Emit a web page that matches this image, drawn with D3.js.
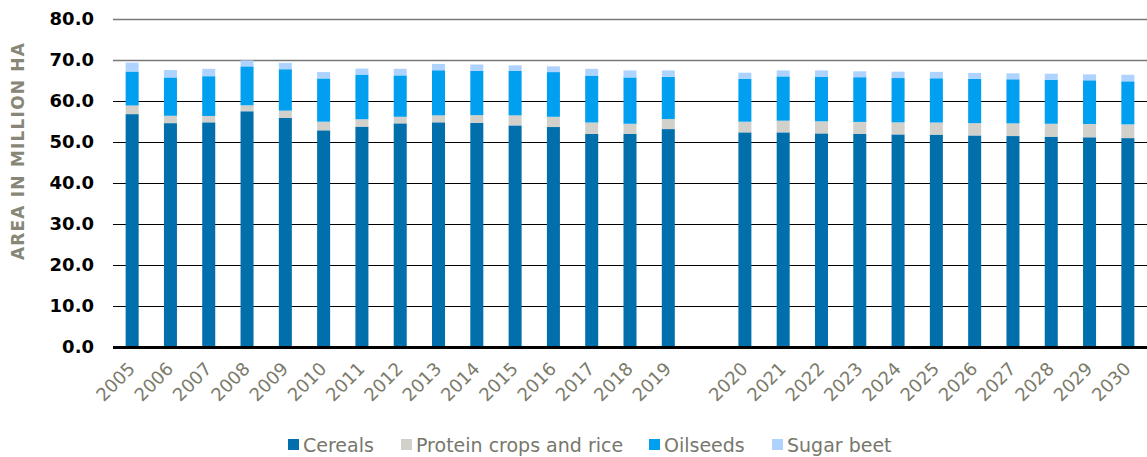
<!DOCTYPE html>
<html><head><meta charset="utf-8">
<script src="https://cdn.jsdelivr.net/npm/d3@7"></script>
<style>body{margin:0;background:#fff;}svg{display:block;font-family:"DejaVu Sans",Verdana,sans-serif;}</style>
</head><body><svg id="c" width="1147" height="457"></svg>
<script>
const years = ["2005","2006","2007","2008","2009","2010","2011","2012","2013","2014","2015","2016","2017","2018","2019","","2020","2021","2022","2023","2024","2025","2026","2027","2028","2029","2030"];
const cereals = [56.8,54.6,54.8,57.5,55.85,52.85,53.75,54.55,54.8,54.7,54.05,53.65,52.0,51.95,53.15,null,52.35,52.35,52.1,51.95,51.85,51.8,51.6,51.45,51.3,51.15,50.95];
const protein = [2.1,1.8,1.55,1.45,1.8,2.1,1.8,1.6,1.7,1.85,2.45,2.5,2.75,2.5,2.45,null,2.6,2.85,2.95,2.95,2.95,2.95,3.0,3.1,3.15,3.25,3.35];
const oilseeds = [8.3,9.35,9.7,9.5,10.1,10.55,10.9,10.1,11.0,10.8,10.9,10.9,11.45,11.3,10.3,null,10.5,10.8,10.8,10.9,10.8,10.8,10.8,10.75,10.75,10.65,10.5];
const sugarBeet = [2.15,1.8,1.8,1.45,1.55,1.55,1.45,1.6,1.55,1.55,1.3,1.4,1.65,1.7,1.55,null,1.45,1.45,1.6,1.45,1.55,1.55,1.45,1.45,1.45,1.45,1.6];
const seriesNames = ["Cereals","Protein crops and rice","Oilseeds","Sugar beet"];
const yTicks = [0,10,20,30,40,50,60,70,80];
const colors = ["#006fab","#d1d0ca","#009fef","#aed3ff"];

const svg = d3.select("#c");
const x = d3.scaleBand().domain(years.map((d,i)=>i)).range([113,1147]).paddingInner(0.66).paddingOuter(0.33);
const y = d3.scaleLinear().domain([0,80]).range([347,19]);

// gridlines
svg.append("g").selectAll("line").data(yTicks.filter(d=>d>0)).join("line")
  .attr("x1",113).attr("x2",1147)
  .attr("y1",d=>Math.round(y(d))+0.5).attr("y2",d=>Math.round(y(d))+0.5)
  .attr("stroke",d=>d>=70?"#777":"#000").attr("stroke-width",d=>d>=70?1.6:1);

// y labels
svg.append("g").selectAll("text").data(yTicks).join("text")
  .attr("x",94).attr("y",d=>y(d)).attr("dy","0.36em")
  .attr("text-anchor","end").attr("font-weight","bold").attr("font-size",18).attr("fill","#000")
  .text(d=>d.toFixed(1));

// stacked data
const rows = years.map((yr,i)=>({i, yr, v:[cereals[i],protein[i],oilseeds[i],sugarBeet[i]]})).filter(r=>r.yr!=="");
const segs = [];
rows.forEach(r=>{let acc=0; r.v.forEach((v,k)=>{segs.push({i:r.i,k,y0:acc,y1:acc+v}); acc+=v;});});
svg.append("g").selectAll("rect").data(segs).join("rect")
  .attr("x",d=>x(d.i)).attr("width",x.bandwidth())
  .attr("y",d=>y(d.y1)).attr("height",d=>y(d.y0)-y(d.y1))
  .attr("fill",d=>colors[d.k]);

// baseline
svg.append("line").attr("x1",113).attr("x2",1147).attr("y1",347.5).attr("y2",347.5).attr("stroke","#000").attr("stroke-width",3);

// x labels
svg.append("g").selectAll("text").data(rows).join("text")
  .attr("transform",d=>`translate(${x(d.i)+x.bandwidth()/2+4},${370}) rotate(-45)`)
  .attr("text-anchor","end").attr("font-size",18).attr("fill","#7b7b6b")
  .text(d=>d.yr);

// y title
svg.append("text").attr("transform","translate(24,151) rotate(-90)")
  .attr("text-anchor","middle").attr("font-weight","bold").attr("font-size",17).attr("fill","#878778")
  .attr("letter-spacing","1.2px")
  .text("AREA IN MILLION HA");

// legend
const legX = [288,401,649,772];
const lg = svg.append("g").selectAll("g").data(seriesNames).join("g")
  .attr("transform",(d,i)=>`translate(${legX[i]},445)`);
lg.append("rect").attr("x",0).attr("y",-6).attr("width",11).attr("height",11).attr("fill",(d,i)=>colors[i]);
lg.append("text").attr("x",15).attr("y",0).attr("dy","0.36em").attr("font-size",19).attr("fill","#77776b").text(d=>d);
</script></body></html>
